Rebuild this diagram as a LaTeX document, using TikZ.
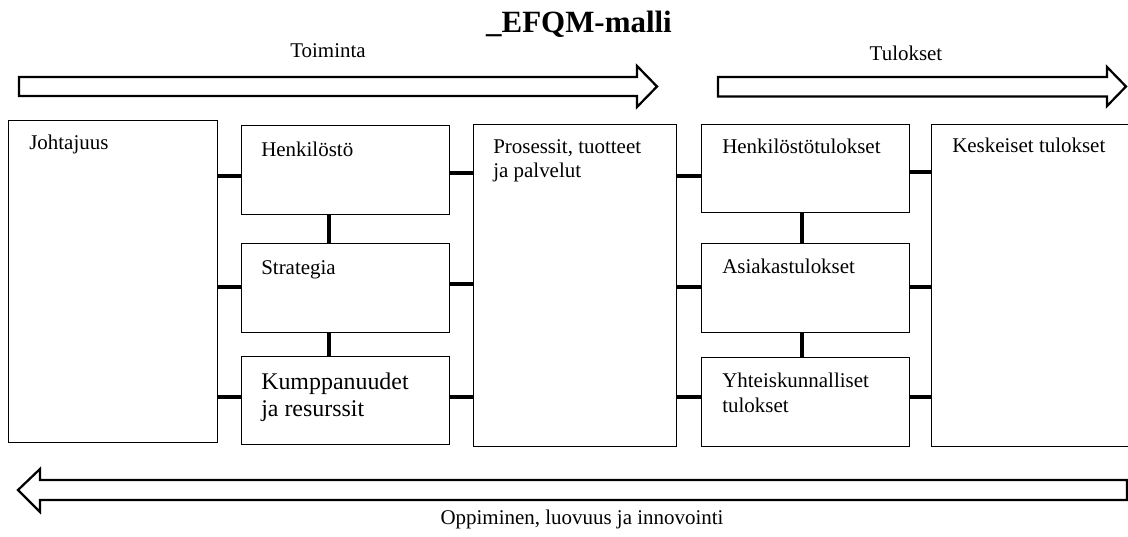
\documentclass[tikz,border=0pt]{standalone}
\usepackage{fontspec}
\setmainfont{Liberation Serif}
\tikzset{
	box/.style={draw, line width=0.9pt, rectangle, inner sep=0pt, anchor=north west},
	link/.style={line width=2.8pt},
	bigarrow/.style={draw, line width=1.6pt, fill=white, line join=miter},
	txt/.style={anchor=base west, inner sep=0pt, align=left, font=\fontsize{14.9}{17.7}\selectfont},
	lbl/.style={anchor=base, inner sep=0pt, font=\fontsize{14.9}{17.7}\selectfont},
}
\begin{document}
\begin{tikzpicture}[x=0.025cm, y=-0.025cm]
	\useasboundingbox (0,0) rectangle (1128,537);

	\node[anchor=base, inner sep=0pt, font=\bfseries\fontsize{22}{25}\selectfont] (title) at (579,33) {\_EFQM-malli};

	% arrows
	\draw[bigarrow] (19,77) -- (637,77) -- (637,66) -- (657,86.5) -- (637,107) -- (637,96) -- (19,96) -- cycle;
	\node[lbl] (toim) at (328,58) {Toiminta};
	\draw[bigarrow] (718,77) -- (1107,77) -- (1107,67) -- (1126,86.5) -- (1107,106) -- (1107,96.5) -- (718,96.5) -- cycle;
	\node[lbl] (tul) at (906,61) {Tulokset};
	\draw[bigarrow] (1127,480) -- (40,480) -- (40,469) -- (18,490) -- (40,512) -- (40,500) -- (1127,500) -- cycle;
	\node[lbl] (opp) at (582,524) {Oppiminen, luovuus ja innovointi};

	% boxes
	\node[box, minimum width=209*0.025cm, minimum height=322*0.025cm] (joht) at (8,120) {};
	\node[box, minimum width=208*0.025cm, minimum height=89*0.025cm] (henk) at (241,125) {};
	\node[box, minimum width=208*0.025cm, minimum height=89*0.025cm] (strat) at (241,243) {};
	\node[box, minimum width=208*0.025cm, minimum height=88*0.025cm] (kump) at (241,356) {};
	\node[box, minimum width=203*0.025cm, minimum height=322*0.025cm] (proc) at (473,124) {};
	\node[box, minimum width=208*0.025cm, minimum height=88*0.025cm] (henkt) at (701,124) {};
	\node[box, minimum width=208*0.025cm, minimum height=89*0.025cm] (asiak) at (701,243) {};
	\node[box, minimum width=208*0.025cm, minimum height=89*0.025cm] (yht) at (701,357) {};
	\node[box, minimum width=200*0.025cm, minimum height=322*0.025cm] (kesk) at (931,124) {};

	% texts (base = last line)
	\node[txt] at ([shift={(21,30)}]joht.north west) {Johtajuus};
	\node[txt] at ([shift={(20,32)}]henk.north west) {Henkilöstö};
	\node[txt] at ([shift={(20,31)}]strat.north west) {Strategia};
	\node[txt, font=\fontsize{17}{19.1}\selectfont] at ([shift={(20,60)}]kump.north west) {Kumppanuudet\\ja resurssit};
	\node[txt] at ([shift={(20,54)}]proc.north west) {Prosessit, tuotteet\\ja palvelut};
	\node[txt] at ([shift={(21,30)}]henkt.north west) {Henkilöstötulokset};
	\node[txt] at ([shift={(21,30)}]asiak.north west) {Asiakastulokset};
	\node[txt] at ([shift={(21,55)}]yht.north west) {Yhteiskunnalliset\\tulokset};
	\node[txt] at ([shift={(21,29)}]kesk.north west) {Keskeiset tulokset};

	% connectors
	\draw[link] (joht.east |- 0,176) -- (henk.west |- 0,176);
	\draw[link] (joht.east |- 0,287) -- (strat.west |- 0,287);
	\draw[link] (joht.east |- 0,397) -- (kump.west |- 0,397);
	\draw[link] (henk.east |- 0,173) -- (proc.west |- 0,173);
	\draw[link] (strat.east |- 0,284) -- (proc.west |- 0,284);
	\draw[link] (kump.east |- 0,397) -- (proc.west |- 0,397);
	\draw[link] (proc.east |- 0,176) -- (henkt.west |- 0,176);
	\draw[link] (proc.east |- 0,287) -- (asiak.west |- 0,287);
	\draw[link] (proc.east |- 0,397) -- (yht.west |- 0,397);
	\draw[link] (henkt.east |- 0,172) -- (kesk.west |- 0,172);
	\draw[link] (asiak.east |- 0,287) -- (kesk.west |- 0,287);
	\draw[link] (yht.east |- 0,397) -- (kesk.west |- 0,397);

	\draw[link] (henk.south -| 329,0) -- (strat.north -| 329,0);
	\draw[link] (strat.south -| 329,0) -- (kump.north -| 329,0);
	\draw[link] (henkt.south -| 802,0) -- (asiak.north -| 802,0);
	\draw[link] (asiak.south -| 802,0) -- (yht.north -| 802,0);
\end{tikzpicture}
\end{document}
